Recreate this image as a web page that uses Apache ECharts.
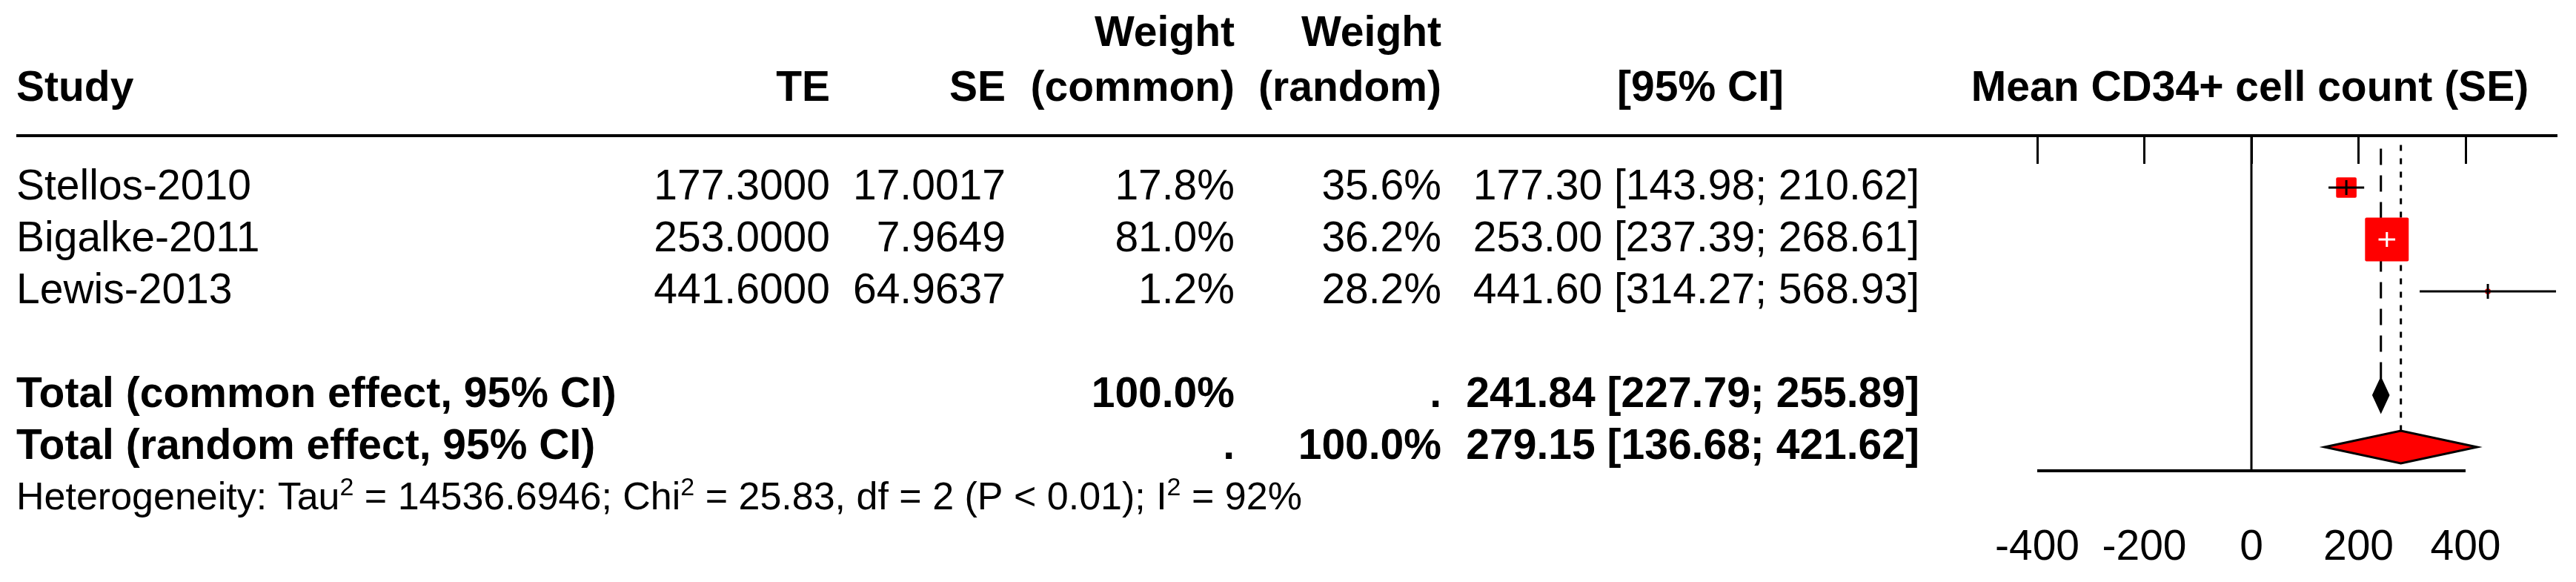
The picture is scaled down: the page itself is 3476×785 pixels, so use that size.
<!DOCTYPE html>
<html>
<head>
<meta charset="UTF-8">
<title>forest plot</title>
<script src="https://cdn.jsdelivr.net/npm/echarts@6/dist/echarts.min.js"></script>
<style>
  body { margin: 0; background: #fff; }
</style>
</head>
<body>
<div id="main" style="width:3476px;height:785px;"></div>
<script>
  // study data
  var studies = ['Stellos-2010', 'Bigalke-2011', 'Lewis-2013'];
  var te = [177.3, 253.0, 441.6];
  var se = [17.0017, 7.9649, 64.9637];
  var lower = [143.98, 237.39, 314.27];
  var upper = [210.62, 268.61, 568.93];
  var wCommon = [17.8, 81.0, 1.2];
  var wRandom = [35.6, 36.2, 28.2];
  var studyRows = [1, 2, 3];
  // pooled estimates [est, lo, hi]
  var commonEffect = [241.84, 227.79, 255.89];
  var randomEffect = [279.15, 136.68, 421.62];
  var xTicks = [-400, -200, 0, 200, 400];

  var FONT = '"Liberation Sans", Arial, sans-serif';
  var FS = 57;
  var TOP = 183, ROW = 70, AXIS_ROW = (635 - TOP) / ROW;
  function ry(r) { return TOP + ROW * r; }

  var myChart = echarts.init(document.getElementById('main'));

  // table text
  var texts = [];
  function txt(s, x, row, align, bold, size) {
    texts.push({
      type: 'text',
      style: {
        text: s, x: x, y: ry(row), textAlign: align || 'right', textVerticalAlign: 'middle',
        font: (bold ? 'bold ' : '') + (size || FS) + 'px ' + FONT, fill: '#000'
      }
    });
  }
  txt('Weight', 1666, -1.95, 'right', true);
  txt('Weight', 1945, -1.95, 'right', true);
  txt('Study', 22, -0.9, 'left', true);
  txt('TE', 1120, -0.9, 'right', true);
  txt('SE', 1357, -0.9, 'right', true);
  txt('(common)', 1666, -0.9, 'right', true);
  txt('(random)', 1945, -0.9, 'right', true);
  txt('[95% CI]', 2407, -0.9, 'right', true);
  txt('Mean CD34+ cell count (SE)', 3036, -0.9, 'center', true);

  for (var i = 0; i < studies.length; i++) {
    var r = studyRows[i];
    txt(studies[i], 22, r, 'left');
    txt(te[i].toFixed(4), 1120, r);
    txt(se[i].toFixed(4), 1357, r);
    txt(wCommon[i].toFixed(1) + '%', 1666, r);
    txt(wRandom[i].toFixed(1) + '%', 1945, r);
    txt(te[i].toFixed(2) + ' [' + lower[i].toFixed(2) + '; ' + upper[i].toFixed(2) + ']', 2590, r);
  }
  txt('Total (common effect, 95% CI)', 22, 5, 'left', true);
  txt('100.0%', 1666, 5, 'right', true);
  txt('.', 1945, 5, 'right', true);
  txt(commonEffect[0].toFixed(2) + ' [' + commonEffect[1].toFixed(2) + '; ' + commonEffect[2].toFixed(2) + ']', 2590, 5, 'right', true);
  txt('Total (random effect, 95% CI)', 22, 6, 'left', true);
  txt('.', 1666, 6, 'right', true);
  txt('100.0%', 1945, 6, 'right', true);
  txt(randomEffect[0].toFixed(2) + ' [' + randomEffect[1].toFixed(2) + '; ' + randomEffect[2].toFixed(2) + ']', 2590, 6, 'right', true);

  texts.push({
    type: 'text',
    style: {
      text: 'Heterogeneity: Tau{s|2} = 14536.6946; Chi{s|2} = 25.83, df = 2 (P < 0.01); I{s|2} = 92%',
      x: 22, y: ry(7), textAlign: 'left', textVerticalAlign: 'middle',
      font: '52px ' + FONT, fill: '#000', lineHeight: 62,
      rich: { s: { fontSize: 34, fontFamily: FONT, verticalAlign: 'top', lineHeight: 62 } }
    }
  });
  // header rule
  texts.push({ type: 'line', shape: { x1: 22, y1: TOP, x2: 3451, y2: TOP }, style: { stroke: '#000', lineWidth: 4 } });

  var studyData = studies.map(function (s, i) {
    return [te[i], lower[i], upper[i], studyRows[i], 6.55 * Math.sqrt(wCommon[i])];
  });

  function renderStudy(params, api) {
    var c = api.coord([api.value(0), api.value(3)]);
    var lo = api.coord([api.value(1), api.value(3)]);
    var hi = api.coord([api.value(2), api.value(3)]);
    var s = api.value(4);
    var inside = (hi[0] - lo[0]) < s;
    var col = inside ? '#fff' : '#000';
    return {
      type: 'group',
      children: [
        { type: 'rect', shape: { x: c[0] - s / 2, y: c[1] - s / 2, width: s, height: s, r: 2 }, style: { fill: '#ff0000' } },
        { type: 'line', shape: { x1: lo[0], y1: c[1], x2: hi[0], y2: c[1] }, style: { stroke: col, lineWidth: 3 } },
        { type: 'line', shape: { x1: c[0], y1: c[1] - 10, x2: c[0], y2: c[1] + 10 }, style: { stroke: col, lineWidth: 3 } }
      ]
    };
  }

  function renderDiamond(params, api) {
    var row = api.value(3);
    var c = api.coord([api.value(0), row]);
    var lo = api.coord([api.value(1), row]);
    var hi = api.coord([api.value(2), row]);
    var h = 22;
    return {
      type: 'polygon',
      shape: { points: [[lo[0], c[1]], [c[0], c[1] - h], [hi[0], c[1]], [c[0], c[1] + h]] },
      style: { fill: api.value(4) ? '#ff0000' : '#000', stroke: '#000', lineWidth: 3 }
    };
  }

  // reference lines: [x, rowFrom, rowTo, style]
  var refLines = [
    [0, 0, AXIS_ROW, 0],
    [commonEffect[0], 0.25, 5 - 0.32, 1],
    [randomEffect[0], 0.18, 6 - 0.32, 2]
  ];
  function renderRef(params, api) {
    var a = api.coord([api.value(0), api.value(1)]);
    var b = api.coord([api.value(0), api.value(2)]);
    var t = api.value(3);
    return {
      type: 'line', shape: { x1: a[0], y1: a[1], x2: b[0], y2: b[1] },
      style: { stroke: '#000', lineWidth: 3, lineDash: t === 0 ? null : (t === 1 ? [22, 14] : [8, 10]) }
    };
  }
  function renderAxisLine(params, api) {
    var a = api.coord([xTicks[0], AXIS_ROW]);
    var b = api.coord([xTicks[xTicks.length - 1], AXIS_ROW]);
    return { type: 'line', shape: { x1: a[0], y1: a[1], x2: b[0], y2: b[1] }, style: { stroke: '#000', lineWidth: 4 } };
  }

  var option = {
    animation: false,
    graphic: texts,
    grid: { left: 2749, width: 970 * 289 / 400, top: TOP, height: 635 - TOP },
    xAxis: {
      type: 'value', min: -400, max: 570,
      splitLine: { show: false },
      axisLine: { show: false },
      axisTick: { show: true, length: 38, customValues: xTicks, lineStyle: { color: '#000', width: 3 } },
      axisLabel: { customValues: xTicks, margin: 76, fontSize: FS, fontFamily: FONT, color: '#000' }
    },
    yAxis: { type: 'value', min: 0, max: AXIS_ROW, inverse: true, show: false },
    series: [
      { type: 'custom', renderItem: renderAxisLine, data: [[0, 0]], silent: true },
      { type: 'custom', renderItem: renderRef, data: refLines, silent: true },
      { type: 'custom', renderItem: renderStudy, data: studyData, silent: true, clip: false },
      {
        type: 'custom', renderItem: renderDiamond, silent: true,
        data: [commonEffect.concat([5, 0]), randomEffect.concat([6, 1])]
      }
    ]
  };
  myChart.setOption(option);
</script>
</body>
</html>
